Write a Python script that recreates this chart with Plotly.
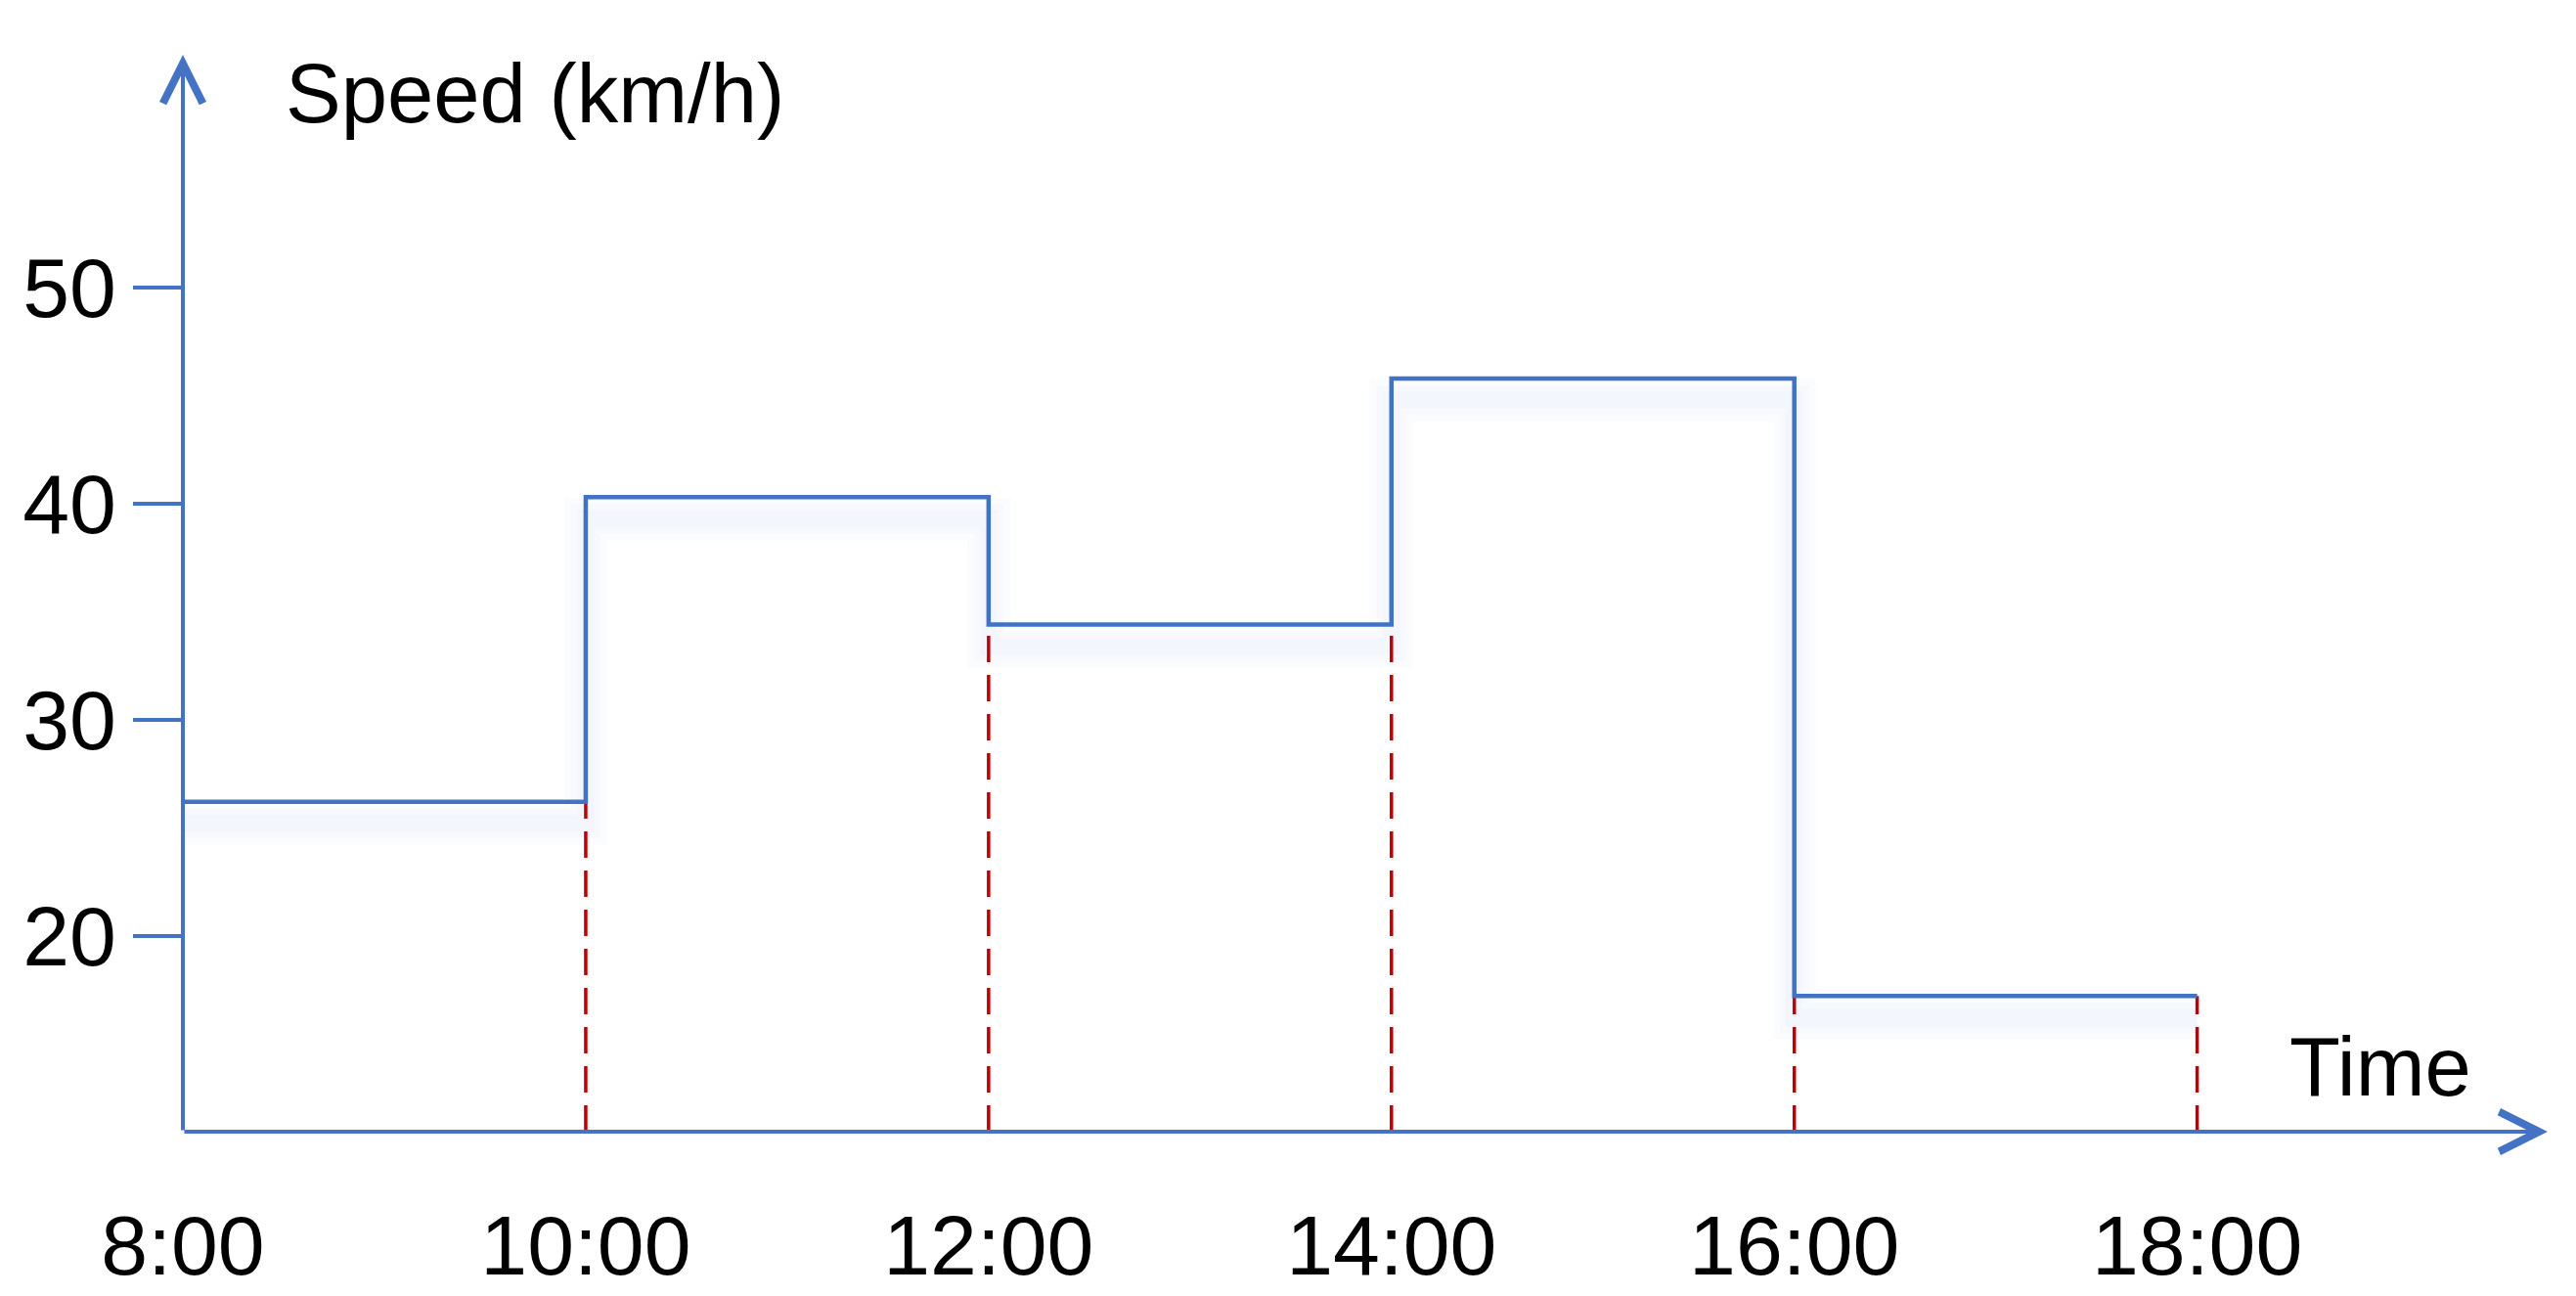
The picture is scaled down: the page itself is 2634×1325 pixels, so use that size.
import plotly.graph_objects as go

# hourly boundaries and average speed within each 2h window
hours = [8, 10, 12, 14, 16, 18]
speeds = [26.2, 40.3, 34.4, 45.8, 17.2]
hour_labels = ["8:00", "10:00", "12:00", "14:00", "16:00", "18:00"]
speed_ticks = [20, 30, 40, 50]

BLUE = "#4472C4"
RED = "#C00000"
FONT = "Liberation Sans, Arial, sans-serif"

y_lo, y_hi = 10.92, 60.79
x_lo, x_hi = 8, 19.74

fig = go.Figure()

# soft shadow under the step line (same data on a slightly shifted axis)
for w, a in [(44, 0.018), (30, 0.022), (18, 0.025)]:
    fig.add_trace(go.Scatter(
        x=hours, y=speeds + [speeds[-1]], mode="lines", line_shape="hv",
        line=dict(color=f"rgba(68,114,196,{a})", width=w),
        yaxis="y2", hoverinfo="skip", showlegend=False))

# dashed red drop lines at each boundary
dx, dy = [], []
for i, t in enumerate(hours[1:]):
    left = speeds[i]
    right = speeds[i + 1] if i + 1 < len(speeds) else left
    dx += [t, t, None]
    dy += [y_lo, min(left, right), None]
fig.add_trace(go.Scatter(
    x=dx, y=dy, mode="lines",
    line=dict(color=RED, width=3.5, dash="27px,13px"),
    showlegend=False))

# the speed step line
fig.add_trace(go.Scatter(
    x=hours, y=speeds + [speeds[-1]], mode="lines", line_shape="hv",
    line=dict(color=BLUE, width=4.5), showlegend=False))

# axes drawn as arrows
for tip, tail in [((x_lo, y_hi), (x_lo, y_lo)), ((x_hi, y_lo), (x_lo, y_lo))]:
    fig.add_annotation(x=tip[0], y=tip[1], ax=tail[0], ay=tail[1],
                       xref="x", yref="y", axref="x", ayref="y",
                       text="", showarrow=True, arrowhead=5, arrowsize=2,
                       arrowwidth=4, arrowcolor=BLUE, standoff=0)

fig.add_annotation(x=8.5, y=59.0, xref="x", yref="y", text="Speed (km/h)",
                   showarrow=False, xanchor="left", yanchor="middle",
                   font=dict(family=FONT, size=85, color="black"))
fig.add_annotation(x=18.45, y=13.95, xref="x", yref="y", text="Time",
                   showarrow=False, xanchor="left", yanchor="middle",
                   font=dict(family=FONT, size=85, color="black"))

fig.update_layout(
    width=2634, height=1325,
    margin=dict(l=179, r=37, t=48, b=163),
    paper_bgcolor="white", plot_bgcolor="white",
    font=dict(family=FONT, size=86, color="black"),
    xaxis=dict(range=[x_lo, x_hi], tickvals=hours, ticktext=hour_labels,
               showgrid=False, zeroline=False, showline=False,
               ticks="outside", ticklen=42, tickcolor="rgba(0,0,0,0)"),
    yaxis=dict(range=[y_lo, y_hi], tickvals=speed_ticks,
               showgrid=False, zeroline=False, showline=False,
               ticks="outside", ticklen=50, tickwidth=4, tickcolor=BLUE),
    yaxis2=dict(range=[y_lo + 1.0, y_hi + 1.0], overlaying="y",
                visible=False),
)

fig.write_html("out.html")
